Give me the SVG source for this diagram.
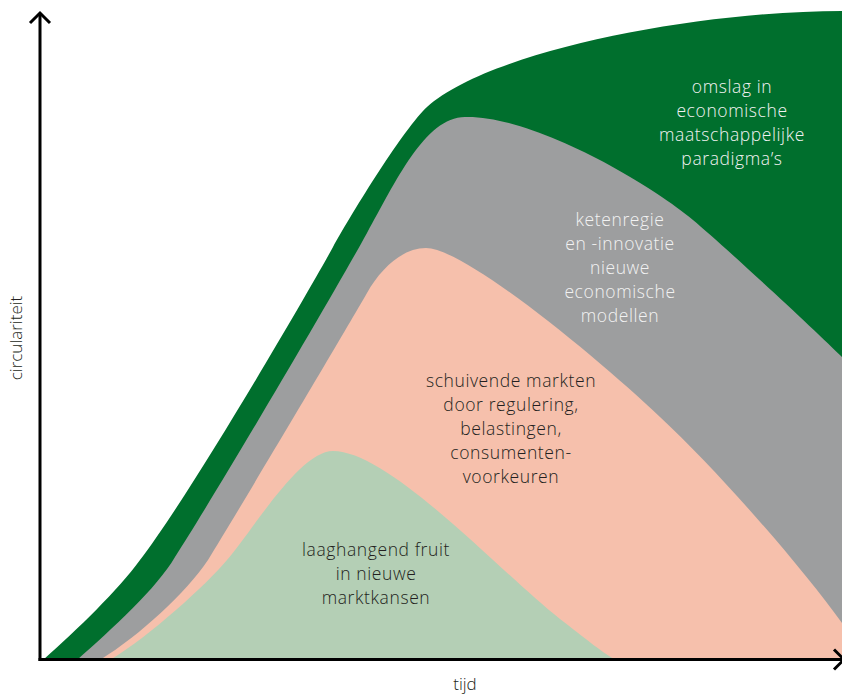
<svg xmlns="http://www.w3.org/2000/svg" width="842" height="697" viewBox="0 0 842 697">
<style>
  .lbl { font-family: "Open Sans", "DejaVu Sans", sans-serif; font-weight: 300; font-size: 17.5px; letter-spacing: 0.6px; text-anchor: middle; }
  .light { fill: #f2f2f2; }
  .dark { fill: #231f20; }
  .axis { stroke: #000; stroke-width: 3; fill: none; }
  .axislbl { font-family: "Open Sans", "DejaVu Sans", sans-serif; font-weight: 300; font-size: 17px; fill: #231f20; text-anchor: middle; }
</style>
<rect width="842" height="697" fill="#ffffff"/>
<g id="omslag">
  <path d="M43,660 C78,629 118,590 140,560 C190,495 305,298 333,247 C353,211 405,127 427,107 C490,50 700,11 842,11 L842,661 L43,661 Z" fill="#006f2d"/>
  <text class="lbl light" x="732" y="93">omslag in</text>
  <text class="lbl light" x="732" y="117">economische</text>
  <text class="lbl light" x="732" y="141">maatschappelijke</text>
  <text class="lbl light" x="732" y="165">paradigma’s</text>
</g>
<g id="ketenregie">
  <path d="M77,660 C112,629 157,588 175,557 C215,495 330,300 367,233 C395,183 425,117 465,117 C530,115 645,180 693,220 C723,245 817,332 842,357 L842,661 L77,661 Z" fill="#9d9e9f"/>
  <text class="lbl light" x="620" y="226">ketenregie</text>
  <text class="lbl light" x="620" y="250">en -innovatie</text>
  <text class="lbl light" x="620" y="274">nieuwe</text>
  <text class="lbl light" x="620" y="298">economische</text>
  <text class="lbl light" x="620" y="322">modellen</text>
</g>
<g id="schuivende">
  <path d="M100,660 C140,635 186,593 208,560 C240,508 340,340 367,293 C381,268 403,248 426,248 C465,248 600,360 660,417 C720,473 800,565 842,623 L842,661 L100,661 Z" fill="#f6c0ac"/>
  <text class="lbl dark" x="511" y="387">schuivende markten</text>
  <text class="lbl dark" x="511" y="411">door regulering,</text>
  <text class="lbl dark" x="511" y="435">belastingen,</text>
  <text class="lbl dark" x="511" y="459">consumenten-</text>
  <text class="lbl dark" x="511" y="483">voorkeuren</text>
</g>
<g id="laaghangend">
  <path d="M110,660 C150,636 207,584 227,560 C255,527 300,451 333,451 C390,451 500,572 560,619 C585,638 605,655 618,661 L110,661 Z" fill="#b4cfb5"/>
  <text class="lbl dark" x="376" y="556">laaghangend fruit</text>
  <text class="lbl dark" x="376" y="580">in nieuwe</text>
  <text class="lbl dark" x="376" y="604">marktkansen</text>
</g>
<g id="connectors">
  <path class="axis" d="M40,661 L40,13"/>
  <path class="axis" d="M30,23 L40,13 L50,23"/>
  <path class="axis" d="M38.5,659.5 L842,659.5"/>
  <path class="axis" d="M834,649.5 L844,659.5 L834,669.5"/>
</g>
<g id="axis-labels">
  <text class="axislbl" x="465" y="690">tijd</text>
  <text class="axislbl" transform="translate(22,338) rotate(-90)" x="0" y="0">circulariteit</text>
</g>
</svg>
